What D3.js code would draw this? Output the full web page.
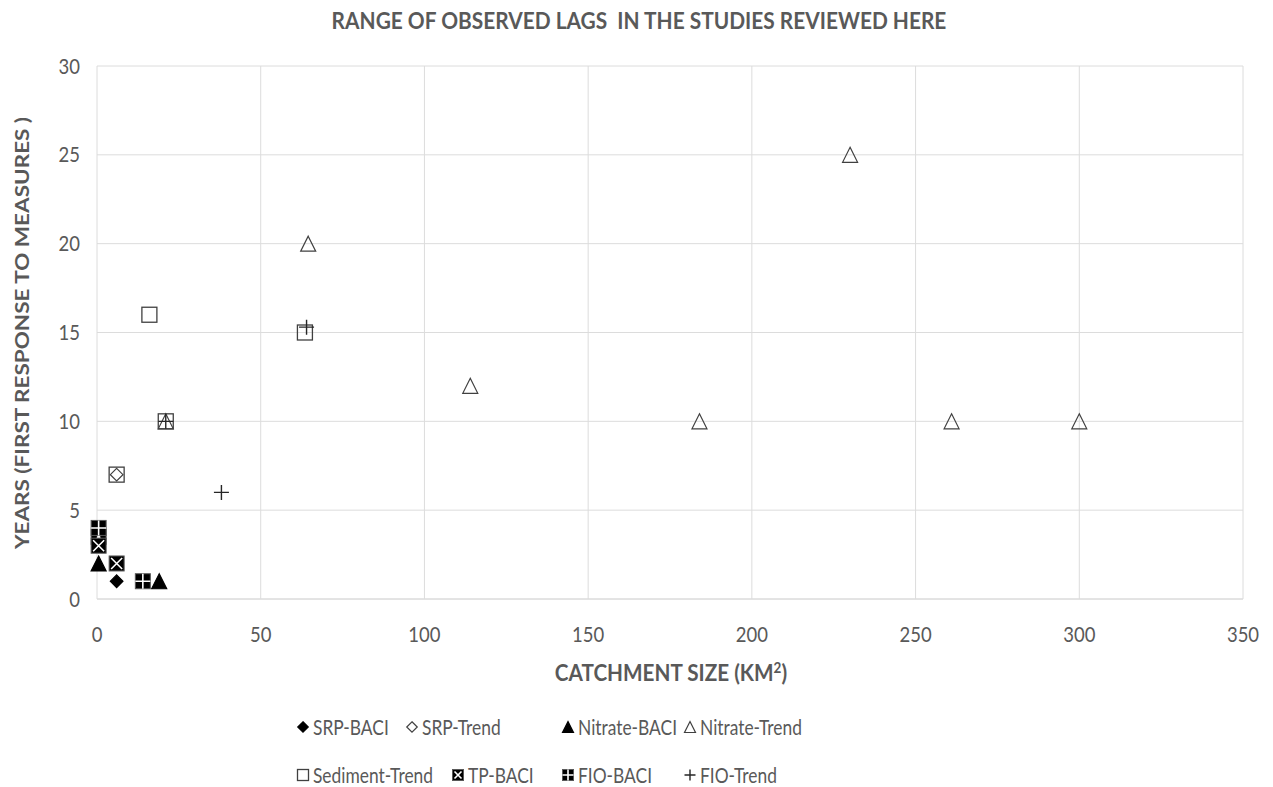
<!DOCTYPE html>
<html>
<head>
<meta charset="utf-8">
<script src="https://cdn.jsdelivr.net/npm/d3@7"></script>
<style>
  body { margin: 0; background: #fff; }
  text { font-family: Lato, "Open Sans", sans-serif; fill: #595959; }
</style>
</head>
<body>
<svg id="chart" width="1273" height="787"></svg>
<script>
// data: [catchment size km2, years]
var srpBaci = [[6, 1]];
var srpTrend = [[6, 7]];
var nitrateBaci = [[0.5, 2], [19, 1]];
var nitrateTrend = [[21, 10], [64.5, 20], [114, 12], [184, 10], [230, 25], [261, 10], [300, 10]];
var sedimentTrend = [[6, 7], [16, 16], [21, 10], [63.5, 15]];
var tpBaci = [[0.5, 3.5], [0.5, 3], [6, 2]];
var fioBaci = [[0.5, 4], [14, 1]];
var fioTrend = [[21, 10], [38, 6], [64, 15.3]];

var xTicks = [0, 50, 100, 150, 200, 250, 300, 350];
var yTicks = [0, 5, 10, 15, 20, 25, 30];

var series = [
	{name: "SRP-BACI", data: srpBaci, shape: "diamond", filled: true},
	{name: "SRP-Trend", data: srpTrend, shape: "diamond", filled: false},
	{name: "Nitrate-BACI", data: nitrateBaci, shape: "triangle", filled: true},
	{name: "Nitrate-Trend", data: nitrateTrend, shape: "triangle", filled: false},
	{name: "Sediment-Trend", data: sedimentTrend, shape: "square", filled: false},
	{name: "TP-BACI", data: tpBaci, shape: "xbox", filled: true},
	{name: "FIO-BACI", data: fioBaci, shape: "plusbox", filled: true},
	{name: "FIO-Trend", data: fioTrend, shape: "plus", filled: false}
];

var margin = {top: 66, right: 30, bottom: 188, left: 97};
var width = 1273 - margin.left - margin.right;
var height = 787 - margin.top - margin.bottom;

var svg = d3.select("#chart");
var g = svg.append("g").attr("transform", "translate(" + margin.left + "," + margin.top + ")");

var x = d3.scaleLinear().domain([0, 350]).range([0, width]);
var y = d3.scaleLinear().domain([0, 30]).range([height, 0]);

// the source text is narrow (Calibri look), so squeeze Lato sideways
function label(parent, px, py, str, size, sx, anchor, bold) {
	return parent.append("text")
		.attr("transform", "translate(" + px + "," + py + ") scale(" + sx + ",1)")
		.attr("text-anchor", anchor || "start")
		.style("font-size", size + "px")
		.style("font-weight", bold ? "bold" : "normal")
		.text(str);
}

// grid
g.append("g").selectAll("line").data(yTicks).join("line")
	.attr("x1", 0).attr("x2", width)
	.attr("y1", function(d) { return y(d); }).attr("y2", function(d) { return y(d); })
	.attr("stroke", function(d) { return d == 0 ? "#c8c8c8" : "#dcdcdc"; })
	.attr("stroke-width", 1);
g.append("g").selectAll("line").data(xTicks).join("line")
	.attr("y1", 0).attr("y2", height)
	.attr("x1", function(d) { return x(d); }).attr("x2", function(d) { return x(d); })
	.attr("stroke", "#dcdcdc").attr("stroke-width", 1);

// tick labels
var xt = g.append("g");
xTicks.forEach(function(d) { label(xt, x(d), height + 43, d, 21, 0.88, "middle"); });
var yt = g.append("g");
yTicks.forEach(function(d) { label(yt, -17, y(d) + 7.5, d, 21, 0.88, "end"); });

// marker drawing
function drawMarker(parent, shape, s, filled) {
	var h = s / 2;
	var stroke = filled ? "#000" : "#404040";
	if (shape == "diamond") {
		var r = h * 1.05;
		parent.append("path").attr("d", "M0," + (-r) + "L" + r + ",0L0," + r + "L" + (-r) + ",0Z")
			.attr("fill", filled ? "#000" : "none").attr("stroke", stroke).attr("stroke-width", 1.2);
	} else if (shape == "triangle") {
		parent.append("path").attr("d", "M0," + (-h) + "L" + h + "," + h + "L" + (-h) + "," + h + "Z")
			.attr("fill", filled ? "#000" : "none").attr("stroke", stroke).attr("stroke-width", 1.2);
	} else if (shape == "square") {
		parent.append("rect").attr("x", -h).attr("y", -h).attr("width", s).attr("height", s)
			.attr("fill", "none").attr("stroke", stroke).attr("stroke-width", 1.3);
	} else if (shape == "xbox" || shape == "plusbox") {
		parent.append("rect").attr("x", -h).attr("y", -h).attr("width", s).attr("height", s)
			.attr("fill", "#000").attr("stroke", "#595959").attr("stroke-width", 1);
		var k = h - 2;
		var d = shape == "xbox"
			? "M" + (-k) + "," + (-k) + "L" + k + "," + k + "M" + k + "," + (-k) + "L" + (-k) + "," + k
			: "M0," + (-h) + "L0," + h + "M" + (-h) + ",0L" + h + ",0";
		parent.append("path").attr("d", d).attr("stroke", "#fff").attr("stroke-width", 1.6);
	} else if (shape == "plus") {
		parent.append("path").attr("d", "M0," + (-h) + "L0," + h + "M" + (-h) + ",0L" + h + ",0")
			.attr("stroke", filled ? "#000" : "#262626").attr("stroke-width", 1.4);
	}
}

series.forEach(function(sr) {
	var sg = g.append("g").attr("class", "series");
	sr.data.forEach(function(p) {
		var m = sg.append("g").attr("transform", "translate(" + x(p[0]) + "," + y(p[1]) + ")");
		var size = sr.shape == "diamond" ? 12 : 15;
		drawMarker(m, sr.shape, size, sr.filled);
	});
});

// title
label(svg, 639, 29, "RANGE OF OBSERVED LAGS  IN THE STUDIES REVIEWED HERE", 22, 0.95, "middle", true)
	.attr("xml:space", "preserve");

// axis titles
var xTitle = label(svg, 671, 681, "", 23, 0.9, "middle", true);
xTitle.append("tspan").text("CATCHMENT SIZE (KM");
xTitle.append("tspan").attr("dy", -8).style("font-size", "15px").text("2");
xTitle.append("tspan").attr("dy", 8).text(")");

svg.append("text").attr("transform", "translate(29,333) rotate(-90) scale(1,0.88)").attr("text-anchor", "middle")
	.style("font-size", "22.5px").style("font-weight", "bold")
	.text("YEARS (FIRST RESPONSE TO MEASURES )");

// legend
var legendPos = [
	[303, 727], [412, 727], [568, 727], [690, 727],
	[303, 775], [458, 775], [568, 775], [690, 775]
];
series.forEach(function(sr, i) {
	var lg = svg.append("g").attr("transform", "translate(" + legendPos[i][0] + "," + legendPos[i][1] + ")");
	var ms = sr.shape == "diamond" ? 10 : 11;
	drawMarker(lg, sr.shape, ms, sr.filled);
	label(lg, 10, 8, sr.name, 22, 0.79);
});
</script>
</body>
</html>
